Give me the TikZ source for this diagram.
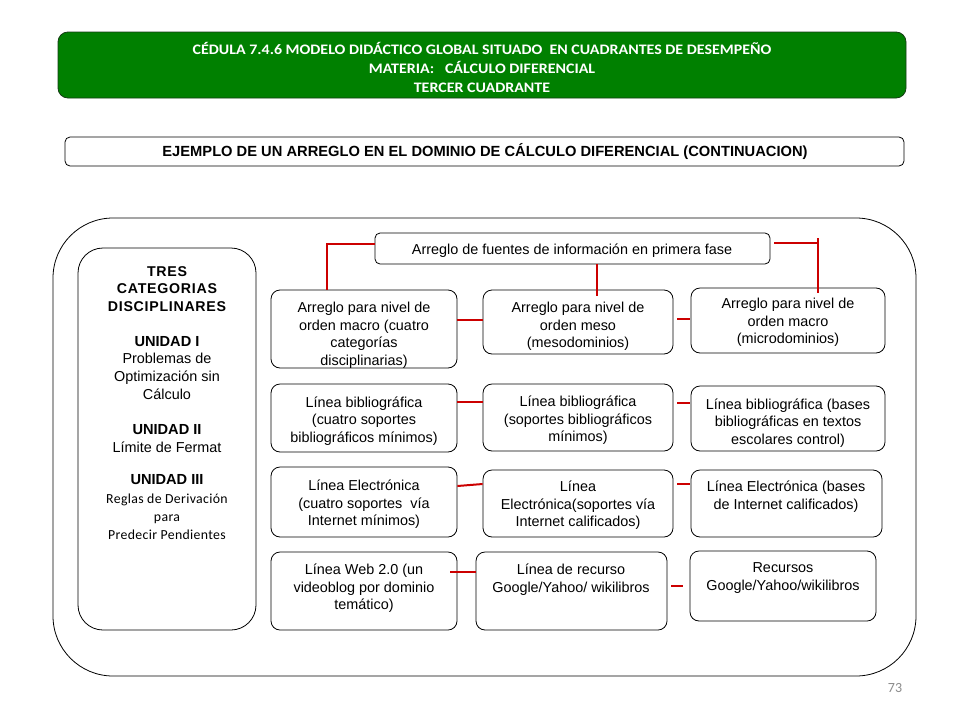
\documentclass[tikz,border=0pt]{standalone}
\usepackage{fontspec}
\setmainfont{Liberation Sans}
\newfontfamily\calib{Carlito}
\newfontfamily\calibw{Carlito}[FakeStretch=1.1]
\newfontfamily\calibsp{Carlito}[LetterSpace=2.5]
\newfontfamily\arialsp{Liberation Sans}[LetterSpace=5]
\usetikzlibrary{fit}
\definecolor{hdrgreen}{RGB}{0,128,0}
\definecolor{hdrborder}{RGB}{20,60,20}
\definecolor{linkred}{RGB}{204,0,0}
\definecolor{pgnum}{RGB}{140,140,140}
\begin{document}
\begin{tikzpicture}[x=1pt,y=-1pt,
  box/.style={draw, rounded corners=9pt, line width=0.8pt, inner sep=0pt},
  txt/.style={align=center, font=\fontsize{14.4}{17.6}\selectfont, inner sep=0pt, yshift=-1.8pt},
  link/.style={draw=linkred, line width=2pt}]
\useasboundingbox (0,0) rectangle (960,720);
\fill[white] (0,0) rectangle (960,720);

% header
\node[draw=hdrborder, fill=hdrgreen, line width=0.8pt, rounded corners=10pt, inner sep=0pt, fit={(58,32) (906,98)}] (hdr) {};
\node[font=\calibw\bfseries\fontsize{14.5}{19}\selectfont, text=white, align=center, inner sep=0pt] (hdrt) at (482,67)
 {CÉDULA 7.4.6 MODELO DIDÁCTICO GLOBAL SITUADO \ EN CUADRANTES DE DESEMPEÑO\\MATERIA: \ \ CÁLCULO DIFERENCIAL\\TERCER CUADRANTE};

% subtitle
\node[box, rounded corners=5pt, fit={(65,137) (904,166)}] (sub) {};
\node[font=\bfseries\fontsize{14.7}{16}\selectfont, inner sep=0pt] (subt) at (485,151.5)
 {EJEMPLO DE UN ARREGLO EN EL DOMINIO DE CÁLCULO DIFERENCIAL (CONTINUACION)};

% outer frame
\node[box, rounded corners=60pt, fit={(53,218) (916,676)}] (outer) {};

% left box
\node[box, rounded corners=25pt, fit={(78,248) (256,630)}] (left) {};
\node[txt, yshift=1pt, font=\arialsp\bfseries\fontsize{14.2}{17.6}\selectfont] (l1) at (167,288) {TRES\\CATEGORIAS\\DISCIPLINARES};
\node[txt] (l2) at (167,366) {\textbf{\fontsize{14.6}{17.6}\selectfont UNIDAD I}\\Problemas de\\Optimización sin\\Cálculo};
\node[txt] (l3) at (167,437) {\textbf{\fontsize{14.6}{17.6}\selectfont UNIDAD II}\\Límite de Fermat};
\node[txt, yshift=1.5pt, font=\calibsp\fontsize{13.8}{18.2}\selectfont] (l4) at (167,507) {\textbf{\fontsize{14.6}{17.6}\selectfont\rmfamily UNIDAD III}\\Reglas de Derivación\\para\\Predecir Pendientes};

% top box
\node[box, rounded corners=5pt, fit={(375,233) (770,264)}] (top) {};
\node[txt] (topt) at (572,249) {Arreglo de fuentes de información en primera fase};

% column 1
\node[box, fit={(271,290) (457,368)}] (a1) {};
\node[txt] (a1t) at (364,333.5) {Arreglo para nivel de\\orden macro (cuatro\\categorías\\disciplinarias)};
\node[box, fit={(271,384) (457,452)}] (a2) {};
\node[txt] (a2t) at (364,419) {Línea bibliográfica\\(cuatro soportes\\bibliográficos mínimos)};
\node[box, fit={(271,467) (457,537)}] (a3) {};
\node[txt] (a3t) at (364,502.5) {Línea Electrónica\\(cuatro soportes \ vía\\Internet mínimos)};
\node[box, fit={(271,552) (457,630)}] (a4) {};
\node[txt] (a4t) at (364,586.5) {Línea Web 2.0 (un\\videoblog por dominio\\temático)};

% column 2
\node[box, fit={(483,290) (673,354)}] (b1) {};
\node[txt] (b1t) at (578,324.5) {Arreglo para nivel de\\orden meso\\(mesodominios)};
\node[box, fit={(483,384) (673,451)}] (b2) {};
\node[txt] (b2t) at (578,418.5) {Línea bibliográfica\\(soportes bibliográficos\\mínimos)};
\node[box, fit={(483,470) (673,537)}] (b3) {};
\node[txt] (b3t) at (578,503.5) {Línea\\Electrónica(soportes vía\\Internet calificados)};
\node[box, fit={(476,552) (667,630)}] (b4) {};
\node[txt] (b4t) at (571,578) {Línea de recurso\\Google/Yahoo/ wikilibros};

% column 3
\node[box, fit={(691,288) (885,353)}] (c1) {};
\node[txt] (c1t) at (788,320.5) {Arreglo para nivel de\\orden macro\\(microdominios)};
\node[box, fit={(691,386) (885,451)}] (c2) {};
\node[txt] (c2t) at (788,421) {Línea bibliográfica (bases\\bibliográficas en textos\\escolares control)};
\node[box, fit={(691,470) (882,537)}] (c3) {};
\node[txt] (c3t) at (786,495) {Línea Electrónica (bases\\de Internet calificados)};
\node[box, fit={(690,551) (876,621)}] (c4) {};
\node[txt] (c4t) at (783,576) {Recursos\\Google/Yahoo/wikilibros};

% red connectors from top box
\draw[link] (top.west |- 0,244) -| (a1.north -| 327,0);
\draw[link] (top.south -| 597,0) -- ([yshift=-6]b1.north -| 597,0);
\draw[link] ([xshift=4]top.east |- 0,243) -| ([yshift=-5]c1.north -| 818,0);
\draw[link, line width=1.2pt] (818,238) -- (818,245);

% row connectors
\draw[link] (a1.east |- 0,320) -- (b1.west |- 0,320);
\draw[link] ([xshift=4]b1.east |- 0,319) -- ([xshift=-1]c1.west |- 0,319);
\draw[link] (a2.east |- 0,402) -- (b2.west |- 0,402);
\draw[link] ([xshift=4]b2.east |- 0,403) -- ([xshift=-1]c2.west |- 0,403);
\draw[link] (a3.east |- 0,486) -- (b3.west |- 0,484);
\draw[link] ([xshift=4]b3.east |- 0,484) -- ([xshift=-1]c3.west |- 0,484);
\draw[link] ([xshift=-7]a4.east |- 0,572) -- (b4.west |- 0,572);
\draw[link] ([xshift=4]b4.east |- 0,586) -- ([xshift=-7]c4.west |- 0,586);

% page number
\node[font=\calib\fontsize{14}{15}\selectfont, text=pgnum, inner sep=0pt] (pg) at (895,688) {73};
\end{tikzpicture}
\end{document}
